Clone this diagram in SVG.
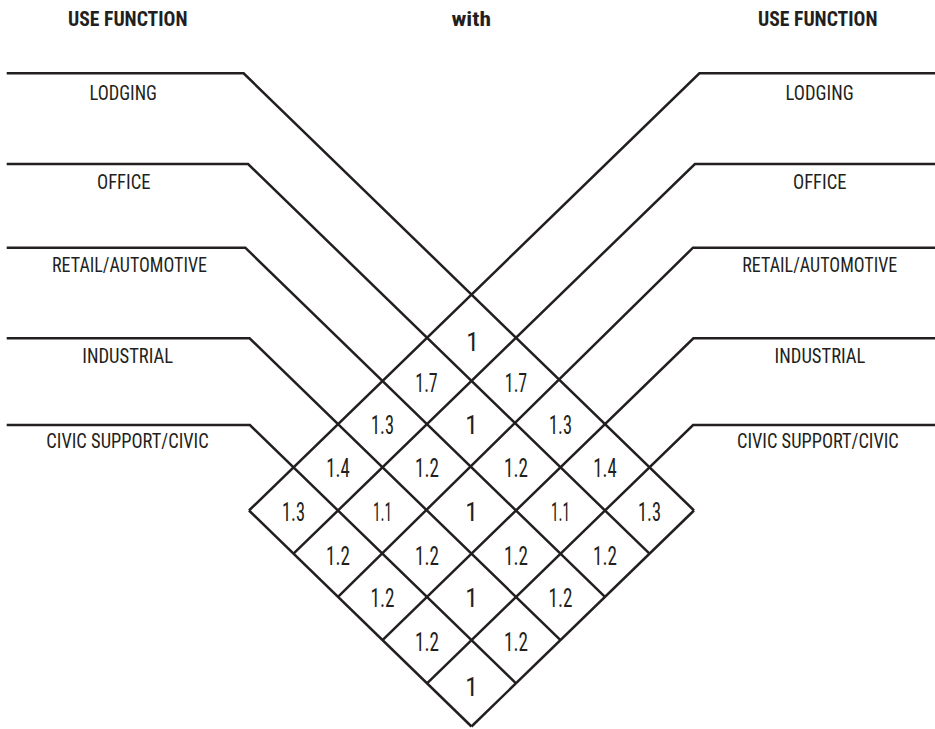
<svg xmlns="http://www.w3.org/2000/svg" width="935" height="729" viewBox="0 0 935 729">
<style>
.ln{fill:none;stroke:#231f20;stroke-width:2.5;stroke-linejoin:miter;stroke-linecap:butt}
text{fill:#231f20;font-family:"Liberation Sans Narrow","Roboto Condensed","DejaVu Sans Condensed","Liberation Sans",sans-serif;font-stretch:condensed}
.ttl{font-size:20px;font-weight:700}
.lbl{font-size:20.5px}
.num{font-size:25.5px;text-anchor:middle}
</style>
<rect width="935" height="729" fill="#ffffff"/>
<g id="titles">
<text class="ttl" x="68" y="26" textLength="119.5" lengthAdjust="spacingAndGlyphs">USE FUNCTION</text>
<text class="ttl" x="451.5" y="26" textLength="39.5" lengthAdjust="spacingAndGlyphs">with</text>
<text class="ttl" x="758" y="26" textLength="119.5" lengthAdjust="spacingAndGlyphs">USE FUNCTION</text>
</g>
<g id="connectors">
<polyline class="ln" points="6.7,73.3 243.6,73.3 694,510.5"/>
<polyline class="ln" points="6.7,164 248.1,164 649.5,553.7"/>
<polyline class="ln" points="6.7,247.7 245.3,247.7 605,596.9"/>
<polyline class="ln" points="6.7,338.3 249.6,338.3 560.5,640.1"/>
<polyline class="ln" points="6.7,425 249.9,425 516,683.3"/>
<line class="ln" x1="249" y1="510.5" x2="471.5" y2="726.5"/>
<polyline class="ln" points="935,73.3 699.4,73.3 249,510.5"/>
<polyline class="ln" points="935,164 694.9,164 293.5,553.7"/>
<polyline class="ln" points="935,247.7 693,247.7 338,596.9"/>
<polyline class="ln" points="935,338.3 693.4,338.3 382.5,640.1"/>
<polyline class="ln" points="935,425 693.1,425 427,683.3"/>
<line class="ln" x1="694" y1="510.5" x2="471.5" y2="726.5"/>
</g>
<g id="left-labels">
<g id="left-lodging"><text class="lbl" x="89.5" y="100" textLength="67.5" lengthAdjust="spacingAndGlyphs">LODGING</text></g>
<g id="left-office"><text class="lbl" x="97" y="189" textLength="53.5" lengthAdjust="spacingAndGlyphs">OFFICE</text></g>
<g id="left-retail"><text class="lbl" x="52" y="271.7" textLength="155" lengthAdjust="spacingAndGlyphs">RETAIL/AUTOMOTIVE</text></g>
<g id="left-industrial"><text class="lbl" x="82.3" y="362.7" textLength="90.8" lengthAdjust="spacingAndGlyphs">INDUSTRIAL</text></g>
<g id="left-civic"><text class="lbl" x="46.3" y="448.3" textLength="162.4" lengthAdjust="spacingAndGlyphs">CIVIC SUPPORT/CIVIC</text></g>
</g>
<g id="right-labels">
<g id="right-lodging"><text class="lbl" x="785.6" y="100" textLength="68" lengthAdjust="spacingAndGlyphs">LODGING</text></g>
<g id="right-office"><text class="lbl" x="793" y="189" textLength="53.5" lengthAdjust="spacingAndGlyphs">OFFICE</text></g>
<g id="right-retail"><text class="lbl" x="742.3" y="271.7" textLength="155" lengthAdjust="spacingAndGlyphs">RETAIL/AUTOMOTIVE</text></g>
<g id="right-industrial"><text class="lbl" x="774.6" y="362.7" textLength="90.8" lengthAdjust="spacingAndGlyphs">INDUSTRIAL</text></g>
<g id="right-civic"><text class="lbl" x="737" y="448" textLength="161.8" lengthAdjust="spacingAndGlyphs">CIVIC SUPPORT/CIVIC</text></g>
</g>
<g id="cells">
<g id="c00"><text class="num" x="472.5" y="350.5">1</text></g>
<g id="c10"><text class="num" x="426.5" y="392" textLength="22.5" lengthAdjust="spacingAndGlyphs">1.7</text></g>
<g id="c01"><text class="num" x="516" y="392" textLength="22.5" lengthAdjust="spacingAndGlyphs">1.7</text></g>
<g id="c20"><text class="num" x="382.5" y="433.8" textLength="23" lengthAdjust="spacingAndGlyphs">1.3</text></g>
<g id="c11"><text class="num" x="471.5" y="433.8">1</text></g>
<g id="c02"><text class="num" x="560.5" y="433.8" textLength="23" lengthAdjust="spacingAndGlyphs">1.3</text></g>
<g id="c30"><text class="num" x="338" y="476.8" textLength="23.5" lengthAdjust="spacingAndGlyphs">1.4</text></g>
<g id="c21"><text class="num" x="427" y="476.8" textLength="24" lengthAdjust="spacingAndGlyphs">1.2</text></g>
<g id="c12"><text class="num" x="516" y="476.8" textLength="24" lengthAdjust="spacingAndGlyphs">1.2</text></g>
<g id="c03"><text class="num" x="605" y="476.8" textLength="23.5" lengthAdjust="spacingAndGlyphs">1.4</text></g>
<g id="c40"><text class="num" x="293.5" y="520.5" textLength="23" lengthAdjust="spacingAndGlyphs">1.3</text></g>
<g id="c31"><text class="num" x="382.5" y="520.5" textLength="19" lengthAdjust="spacingAndGlyphs">1.1</text></g>
<g id="c22"><text class="num" x="471.5" y="520.5">1</text></g>
<g id="c13"><text class="num" x="560.5" y="520.5" textLength="19" lengthAdjust="spacingAndGlyphs">1.1</text></g>
<g id="c04"><text class="num" x="649.5" y="520.5" textLength="23" lengthAdjust="spacingAndGlyphs">1.3</text></g>
<g id="c41"><text class="num" x="338" y="564.5" textLength="24" lengthAdjust="spacingAndGlyphs">1.2</text></g>
<g id="c32"><text class="num" x="427" y="564.5" textLength="24" lengthAdjust="spacingAndGlyphs">1.2</text></g>
<g id="c23"><text class="num" x="516" y="564.5" textLength="24" lengthAdjust="spacingAndGlyphs">1.2</text></g>
<g id="c14"><text class="num" x="605" y="564.5" textLength="24" lengthAdjust="spacingAndGlyphs">1.2</text></g>
<g id="c42"><text class="num" x="382.5" y="607" textLength="24" lengthAdjust="spacingAndGlyphs">1.2</text></g>
<g id="c33"><text class="num" x="471.5" y="607">1</text></g>
<g id="c24"><text class="num" x="560.5" y="607" textLength="24" lengthAdjust="spacingAndGlyphs">1.2</text></g>
<g id="c43"><text class="num" x="427" y="650.5" textLength="24" lengthAdjust="spacingAndGlyphs">1.2</text></g>
<g id="c34"><text class="num" x="516" y="650.5" textLength="24" lengthAdjust="spacingAndGlyphs">1.2</text></g>
<g id="c44"><text class="num" x="471.5" y="696">1</text></g>
</g>
</svg>
